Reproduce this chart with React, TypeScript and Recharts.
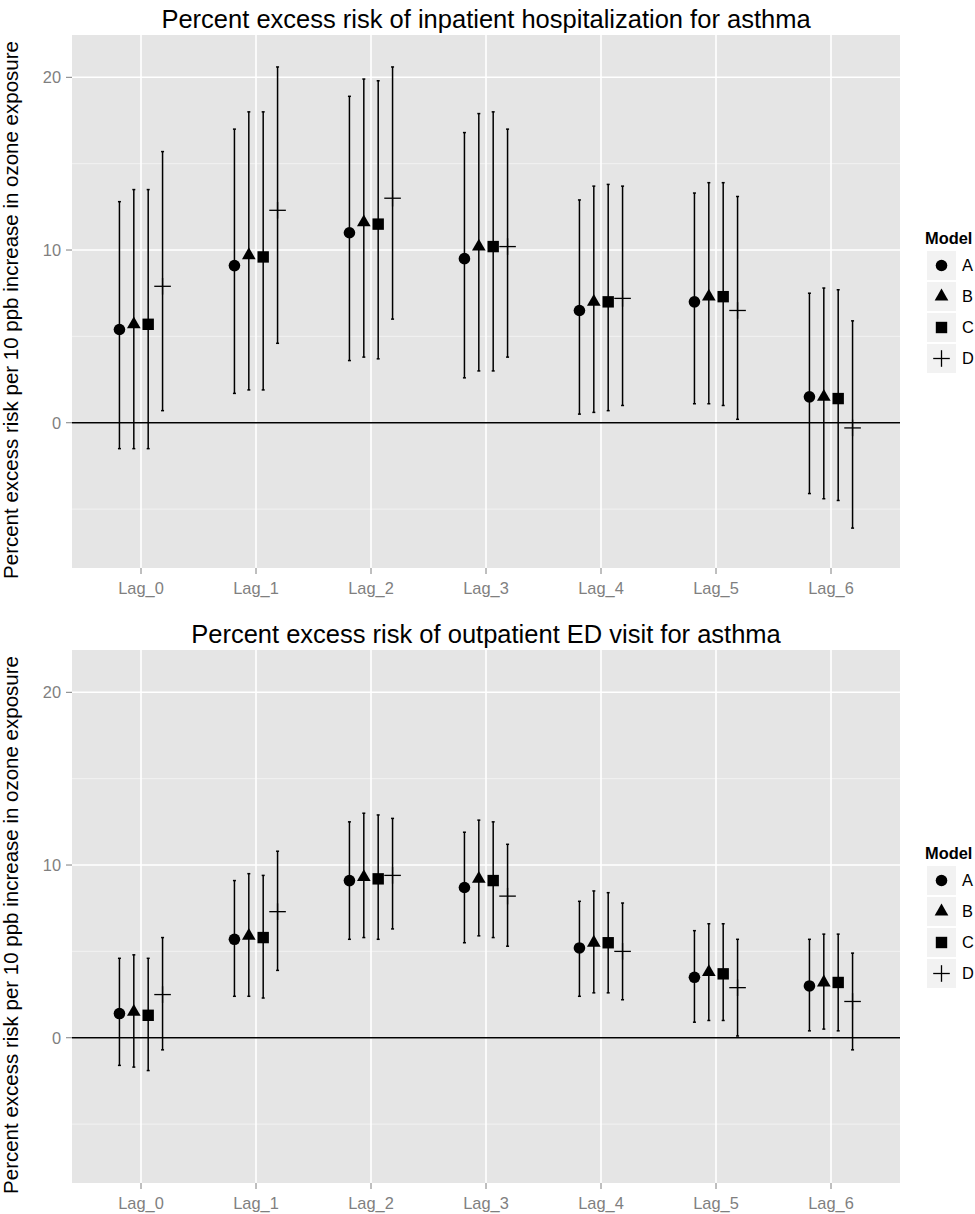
import React from 'react';
import { ScatterChart, Scatter, XAxis, YAxis, CartesianGrid, ErrorBar, ReferenceLine, Legend } from 'recharts';

const FONT = '"Liberation Sans", Arial, Helvetica, sans-serif';

const lags = ['Lag_0', 'Lag_1', 'Lag_2', 'Lag_3', 'Lag_4', 'Lag_5', 'Lag_6'];
const models = ['A', 'B', 'C', 'D'];
// dodge offsets (in category units) for the four models
const dodge = [-0.1875, -0.0625, 0.0625, 0.1875];

// rows are [estimate, lower, upper], one per lag
const inpatientA = [[5.4, -1.5, 12.8], [9.1, 1.7, 17.0], [11.0, 3.6, 18.9], [9.5, 2.6, 16.8], [6.5, 0.5, 12.9], [7.0, 1.1, 13.3], [1.5, -4.1, 7.5]];
const inpatientB = [[5.7, -1.5, 13.5], [9.7, 1.9, 18.0], [11.6, 3.8, 19.9], [10.2, 3.0, 17.9], [7.0, 0.6, 13.7], [7.3, 1.1, 13.9], [1.5, -4.4, 7.8]];
const inpatientC = [[5.7, -1.5, 13.5], [9.6, 1.9, 18.0], [11.5, 3.7, 19.8], [10.2, 3.0, 18.0], [7.0, 0.7, 13.8], [7.3, 1.0, 13.9], [1.4, -4.5, 7.7]];
const inpatientD = [[7.9, 0.7, 15.7], [12.3, 4.6, 20.6], [13.0, 6.0, 20.6], [10.2, 3.8, 17.0], [7.2, 1.0, 13.7], [6.5, 0.2, 13.1], [-0.3, -6.1, 5.9]];

const edA = [[1.4, -1.6, 4.6], [5.7, 2.4, 9.1], [9.1, 5.7, 12.5], [8.7, 5.5, 11.9], [5.2, 2.4, 7.9], [3.5, 0.9, 6.2], [3.0, 0.4, 5.7]];
const edB = [[1.5, -1.7, 4.8], [5.9, 2.4, 9.5], [9.3, 5.8, 13.0], [9.2, 5.9, 12.6], [5.5, 2.6, 8.5], [3.8, 1.0, 6.6], [3.2, 0.5, 6.0]];
const edC = [[1.3, -1.9, 4.6], [5.8, 2.3, 9.4], [9.2, 5.7, 12.9], [9.1, 5.8, 12.5], [5.5, 2.6, 8.4], [3.7, 1.0, 6.6], [3.2, 0.4, 6.0]];
const edD = [[2.5, -0.7, 5.8], [7.3, 3.9, 10.8], [9.4, 6.3, 12.7], [8.2, 5.3, 11.2], [5.0, 2.2, 7.8], [2.9, 0.1, 5.7], [2.1, -0.7, 4.9]];

const yTicks = [0, 10, 20];
const yMinor = [-5, 5, 15];

const Y_LABEL = 'Percent excess risk per 10 ppb increase in ozone exposure';

const toPoints = (rows: number[][], k: number) =>
  rows.map((r, i) => ({ x: i + dodge[k], y: r[0], err: [r[0] - r[1], r[2] - r[0]] }));

// point shapes (ggplot pch 16, 17, 15, 3)
const Dot = ({ cx, cy }: any) => <circle cx={cx} cy={cy} r={5.8} fill="#000" />;
const Tri = ({ cx, cy }: any) => {
  const r = 7.9;
  const xc = r * 0.866;
  return <polygon points={`${cx},${cy - r} ${cx + xc},${cy + r / 2} ${cx - xc},${cy + r / 2}`} fill="#000" />;
};
const Sq = ({ cx, cy }: any) => <rect x={cx - 5.7} y={cy - 5.7} width={11.4} height={11.4} fill="#000" />;
const Plus = ({ cx, cy }: any) => (
  <g stroke="#000" strokeWidth={1.3}>
    <line x1={cx - 8.3} y1={cy} x2={cx + 8.3} y2={cy} />
    <line x1={cx} y1={cy - 8.3} x2={cx} y2={cy + 8.3} />
  </g>
);
const shapes = [Dot, Tri, Sq, Plus];

const renderLegend = () => (
  <div style={{ fontFamily: FONT, color: '#000' }}>
    <div style={{ fontWeight: 'bold', fontSize: 16.4, height: 24, lineHeight: '24px', marginLeft: -2 }}>Model</div>
    {models.map((m, k) => {
      const S = shapes[k];
      return (
        <div key={m} style={{ display: 'flex', alignItems: 'center', height: 31 }}>
          <svg width={29} height={29} style={{ background: '#F2F2F2', display: 'block' }}>
            <S cx={14.5} cy={14.5} />
          </svg>
          <span style={{ marginLeft: 6, fontSize: 16.4 }}>{m}</span>
        </div>
      );
    })}
  </div>
);

function Panel({ title, series, top }: { title: string; series: number[][][]; top: number }) {
  return (
    <div style={{ position: 'absolute', left: 0, top, width: 975, height: 607 }}>
      <ScatterChart width={975} height={607} margin={{ top: 35, right: 75, bottom: 0, left: 0 }}>
        <CartesianGrid fill="#E5E5E5" stroke="#F2F2F2" strokeWidth={1} vertical={false} horizontalValues={yMinor} />
        <CartesianGrid fill="none" stroke="#FFFFFF" strokeWidth={1.6} horizontalValues={yTicks} verticalValues={[0, 1, 2, 3, 4, 5, 6]} />
        <XAxis
          type="number"
          dataKey="x"
          domain={[-0.6, 6.6]}
          ticks={[0, 1, 2, 3, 4, 5, 6]}
          interval={0}
          tickFormatter={(v: number) => lags[v]}
          height={39}
          axisLine={false}
          tickSize={6}
          tickMargin={8}
          tickLine={{ stroke: '#7F7F7F' }}
          tick={{ fill: '#7F7F7F', fontSize: 16.4, fontFamily: FONT }}
          allowDataOverflow
        />
        <YAxis
          type="number"
          dataKey="y"
          domain={[-8.41, 22.45]}
          ticks={yTicks}
          interval={0}
          width={72}
          axisLine={false}
          tickSize={6}
          tickMargin={5}
          tickLine={{ stroke: '#7F7F7F' }}
          tick={{ fill: '#7F7F7F', fontSize: 16.4, fontFamily: FONT }}
          allowDataOverflow
        />
        <ReferenceLine y={0} stroke="#000" strokeWidth={1.6} />
        {series.map((rows, k) => (
          <Scatter key={models[k]} name={models[k]} data={toPoints(rows, k)} shape={shapes[k]} isAnimationActive={false}>
            <ErrorBar dataKey="err" direction="y" width={1.5} stroke="#000" strokeWidth={1.5} isAnimationActive={false} />
          </Scatter>
        ))}
        <Legend
          layout="vertical"
          align="center"
          verticalAlign="middle"
          content={renderLegend}
          wrapperStyle={{ left: 927, top: 226, width: 48 }}
        />
      </ScatterChart>
      <div style={{ position: 'absolute', left: 0, width: 972, top: 7, textAlign: 'center', fontSize: 25.5, lineHeight: '25.5px', fontFamily: FONT, color: '#000' }}>
        {title}
      </div>
      <div
        style={{
          position: 'absolute',
          left: 10.5 - 300,
          top: 310 - 12,
          width: 600,
          height: 24,
          lineHeight: '24px',
          fontSize: 20.5,
          textAlign: 'center',
          fontFamily: FONT,
          color: '#000',
          transform: 'rotate(-90deg)',
          whiteSpace: 'nowrap',
        }}
      >
        {Y_LABEL}
      </div>
    </div>
  );
}

export default function App() {
  return (
    <div style={{ position: 'absolute', left: 0, top: 0, width: 975, height: 1214, overflow: 'hidden', background: '#fff' }}>
      <Panel title="Percent excess risk of inpatient hospitalization for asthma" series={[inpatientA, inpatientB, inpatientC, inpatientD]} top={0} />
      <Panel title="Percent excess risk of outpatient ED visit for asthma" series={[edA, edB, edC, edD]} top={615} />
    </div>
  );
}
